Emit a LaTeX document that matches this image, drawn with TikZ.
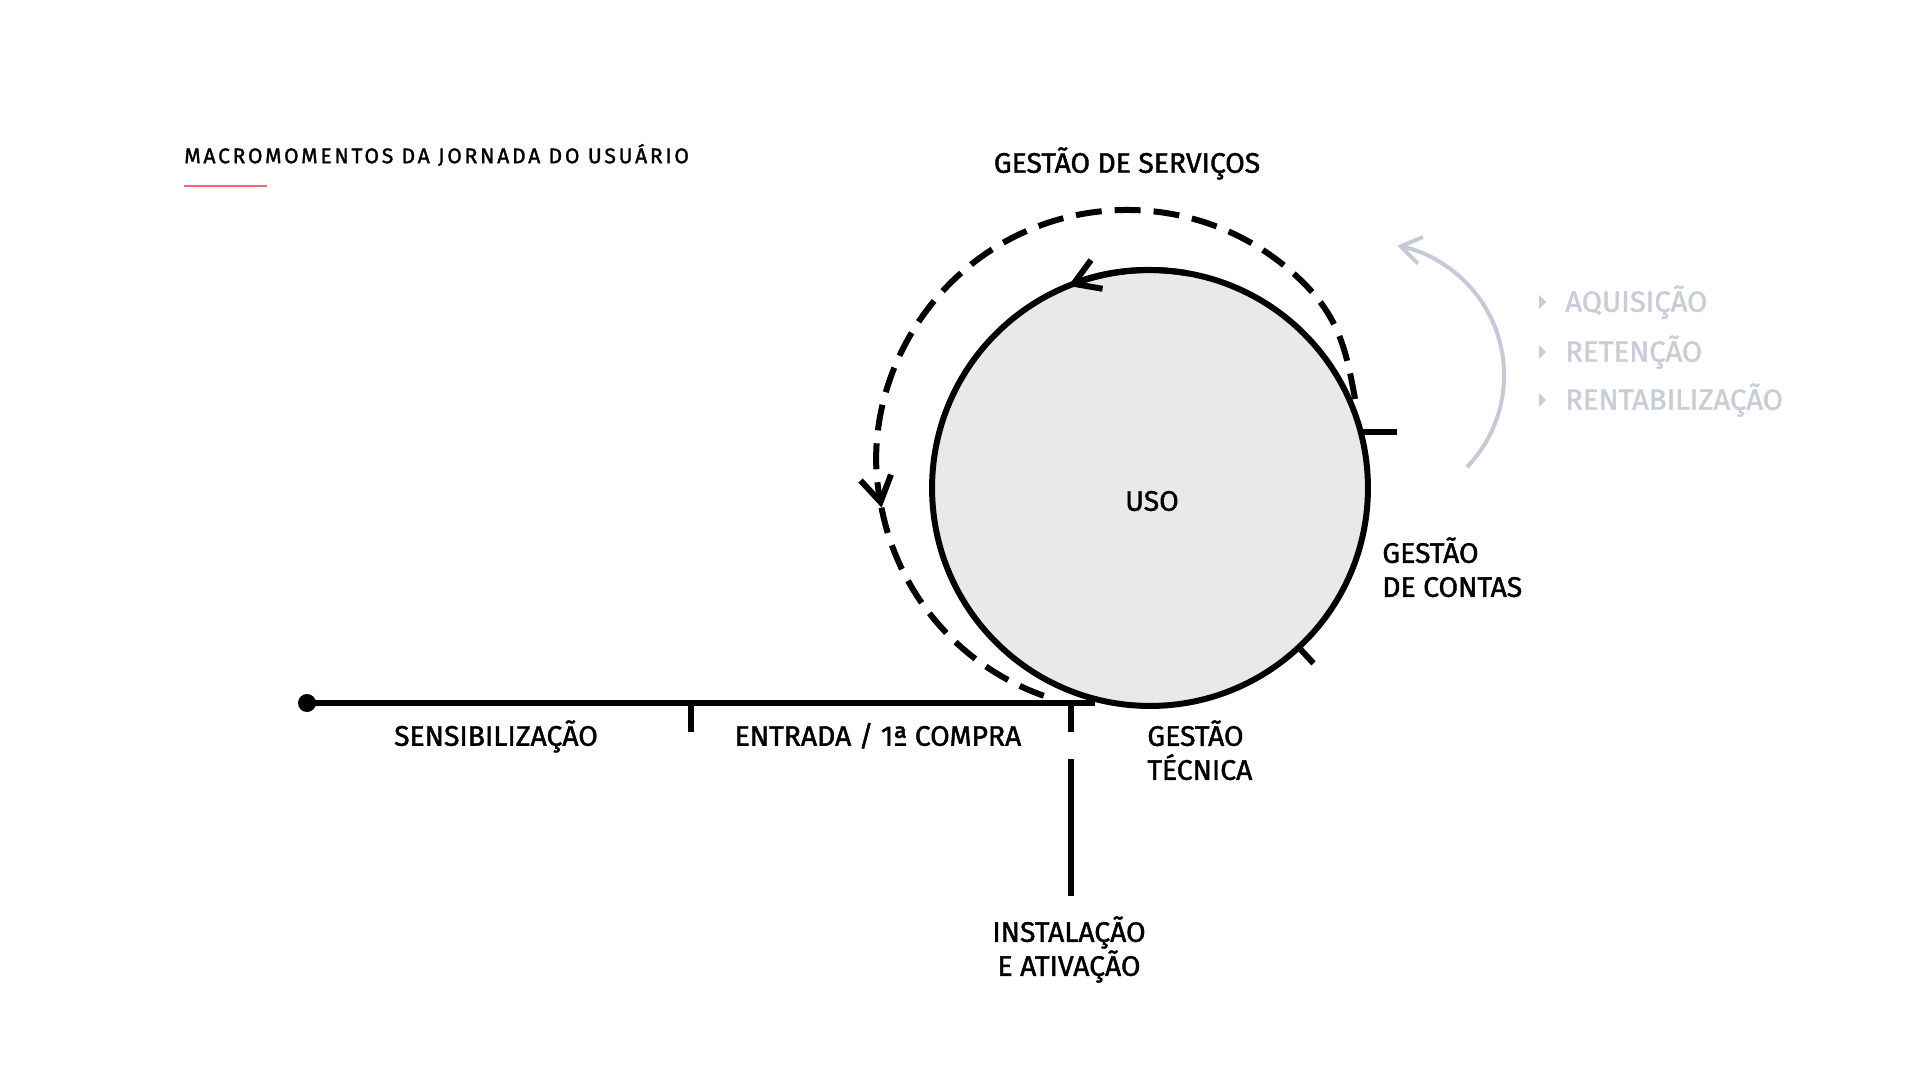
\documentclass[tikz,border=0pt]{standalone}
\usepackage{fontspec}
\setmainfont{Fira Sans}[FakeBold=1.5]
\newfontfamily\headfamily{Fira Sans}[LetterSpace=13, FakeBold=1.5]
\usetikzlibrary{arrows.meta, positioning, calc}

\definecolor{uso_fill}{HTML}{E9E9E9}
\definecolor{accent_red}{HTML}{F2677A}
\definecolor{cycle_gray}{HTML}{C5CAD6}
\definecolor{list_gray}{HTML}{C9CDD7}

\newcommand{\diagfont}{\fontsize{16.1}{19.35}\selectfont}

\begin{document}
\begin{tikzpicture}[
    x=0.02cm, y=0.02cm,
    track_line/.style={line width=0.12cm, black},
    dash_line/.style={track_line, dash pattern=on 0.52cm off 0.26cm},
    cycle_line/.style={line width=0.08cm, cycle_gray},
    barb_tip/.style={-{Straight Barb[length=0.5cm, width=0.62cm]}},
    label_style/.style={font=\diagfont, inner sep=0pt, text height=0.39cm, text depth=0pt},
    multi_label_style/.style={font=\diagfont, inner sep=0pt, align=left},
    list_style/.style={label_style, font=\fontsize{16.6}{20}\selectfont, text=list_gray, anchor=west},
    dot_style/.style={circle, fill=black, inner sep=0pt, minimum size=0.36cm},
    uso_circle_style/.style={circle, draw, fill=uso_fill, line width=0.12cm, inner sep=0pt, outer sep=0pt, minimum size=8.72cm}
]

% canvas
\fill[white] (0,0) rectangle (1920,1080);
\useasboundingbox (0,0) rectangle (1920,1080);

% Title
\node[font=\headfamily\fontsize{12}{14}\selectfont, inner sep=0pt, anchor=west] (title) at (184,925) {MACROMOMENTOS DA JORNADA DO USUÁRIO};
\draw[accent_red, line width=0.04cm] ($(title.west)+(0,-31)$) -- ++(83,0);

% USO CIRCLE
\node[uso_circle_style] (uso_circle) at (1150,592) {};
\node[label_style] (uso) at (1152,579) {USO};

% arrow on the circle
\draw[track_line, barb_tip] (uso_circle.80) arc[start angle=80, end angle=112, radius=218];

% ticks on the circle
\draw[track_line] (uso_circle.15) -- ++(36,0);
\draw[track_line] (uso_circle.-47) -- ($(uso_circle.center)!1.1!(uso_circle.-47)$);

% Dashed loop round the circle
\coordinate (dash_start) at (1355,681);
\coordinate (dash_top) at (1303.8,796.8);
\coordinate (dash_mid) at (881.5,572.3);
\draw[dash_line, barb_tip] (dash_start) to[out=100, in=-45] (dash_top) arc[start angle=45, end angle=191, radius=250];
\draw[dash_line] (dash_mid) arc[start angle=191, end angle=252, radius=250];
\node[label_style] (servicos) at (1127,917) {GESTÃO DE SERVIÇOS};

% JOURNEY LINE
\node[dot_style] (start) at (307,377) {};
\coordinate (junction) at (1095,377);
\coordinate (tick_a) at (691,377);
\coordinate (tick_b) at (1071,377);
\draw[track_line] (start.center) -- (junction);
\draw[track_line] (tick_a) -- ++(0,-29);
\draw[track_line] (tick_b) -- ++(0,-29);
\coordinate (install_top) at (1071,321);
\draw[track_line] (install_top) -- ++(0,-137);

\node[label_style] (sensib) at (496,344) {SENSIBILIZAÇÃO};
\node[label_style] (entrada) at (878,344) {ENTRADA / 1ª COMPRA};
\node[multi_label_style, anchor=north west] (tecnica) at (1147,360) {GESTÃO\\TÉCNICA};
\node[multi_label_style, anchor=north west] (contas) at (1382,543) {GESTÃO\\DE CONTAS};
\node[multi_label_style, align=center, anchor=north] (instalacao) at (1069,164) {INSTALAÇÃO\\E ATIVAÇÃO};

% CYCLE ARROW AND LIST
\coordinate (cycle_start) at (1467,613);
\draw[cycle_line, -{Straight Barb[length=0.4cm, width=0.54cm]}] (cycle_start) arc[start angle=-44, end angle=79, radius=132];

\node[list_style] (aquisicao) at (1565,778) {AQUISIÇÃO};
\node[list_style] (retencao) at (1565,728) {RETENÇÃO};
\node[list_style] (rentab) at (1565,680) {RENTABILIZAÇÃO};
\fill[list_gray] ($(aquisicao.west)+(-26,-7)$) -- ++(7,7) -- ++(-7,7) -- cycle;
\fill[list_gray] ($(retencao.west)+(-26,-7)$) -- ++(7,7) -- ++(-7,7) -- cycle;
\fill[list_gray] ($(rentab.west)+(-26,-7)$) -- ++(7,7) -- ++(-7,7) -- cycle;

\end{tikzpicture}
\end{document}
